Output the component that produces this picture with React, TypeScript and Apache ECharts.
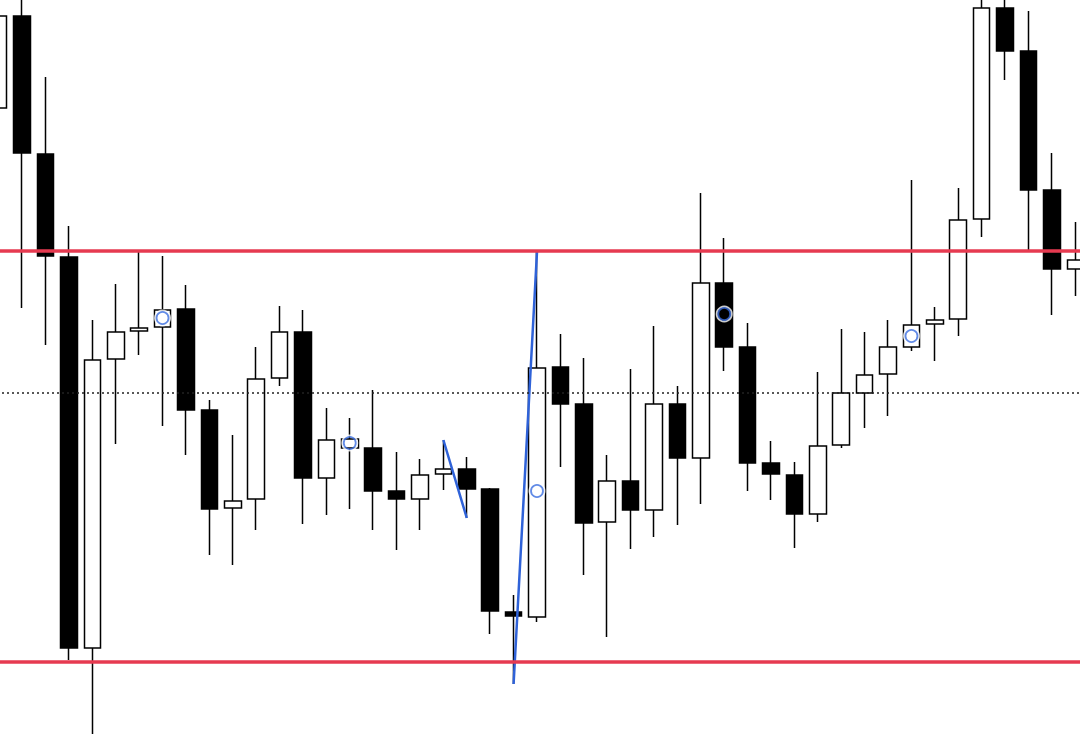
import React, { useEffect, useRef } from "react";
import * as echarts from "echarts";

// Price values (arbitrary units), one entry per candle, left to right.
const opens = [626, 718, 580, 477, 86, 375, 403, 407, 425, 324, 226, 235, 356, 402, 256, 286, 286, 243, 235, 260, 265, 245, 122, 117, 367, 330, 212, 253, 224, 330, 276, 451, 387, 271, 259, 220, 289, 341, 360, 387, 410, 415, 515, 726, 683, 544, 465];
const closes = [718, 581, 478, 86, 374, 402, 406, 424, 324, 225, 233, 355, 402, 256, 294, 295, 243, 235, 259, 265, 245, 123, 118, 366, 330, 211, 253, 224, 330, 276, 451, 387, 271, 260, 220, 288, 341, 359, 387, 409, 414, 514, 726, 683, 544, 465, 474];
const lows = [619, 426, 389, 74, -6, 290, 379, 308, 279, 179, 169, 204, 348, 210, 219, 225, 204, 184, 204, 244, 216, 100, 50, 112, 267, 159, 97, 185, 197, 209, 230, 363, 243, 234, 186, 212, 286, 306, 318, 383, 373, 398, 497, 654, 483, 419, 438];
const highs = [729, 740, 657, 508, 414, 450, 484, 478, 449, 334, 299, 387, 428, 424, 326, 316, 344, 282, 275, 294, 277, 246, 139, 482, 400, 376, 279, 365, 408, 348, 541, 496, 411, 293, 272, 362, 405, 402, 414, 554, 427, 546, 740, 740, 723, 581, 512];

// Zigzag swing line (null = no segment)
const zigzag = [null, null, null, null, null, null, null, null, null, null, null, null, null, null, null, null, null, null, null, 294, 216, null, 50, 482, null, null, null, null, null, null, null, null, null, null, null, null, null, null, null, null, null, null, null, null, null, null, null];

// Marker circles: [candle index, value]
const markers: [number, number][] = [[7, 416], [15, 291], [23, 243], [31, 420], [39, 398]];

// Horizontal levels
const resistance = 483;
const support = 72;
const midLevel = 341;

const categories = opens.map((_, i) => String(i + 1));

export default function App() {
  const ref = useRef<HTMLDivElement>(null);
  useEffect(() => {
    if (!ref.current) return;
    const chart = echarts.init(ref.current, undefined, { renderer: "svg" });
    const candleData = opens.map((o, i) => [o, closes[i], lows[i], highs[i]]);
    chart.setOption({
      animation: false,
      backgroundColor: "#ffffff",
      grid: { left: 0, top: 0, right: 0, bottom: 0, containLabel: false },
      xAxis: {
        type: "category",
        data: categories,
        boundaryGap: true,
        show: false,
      },
      yAxis: {
        type: "value",
        min: 0,
        max: 734,
        show: false,
        splitLine: { show: false },
      },
      series: [
        {
          type: "candlestick",
          data: candleData,
          barWidth: "73%",
          clip: true,
          itemStyle: {
            color: "#ffffff",
            color0: "#000000",
            borderColor: "#000000",
            borderColor0: "#000000",
            borderWidth: 1.5,
          },
          markLine: {
            silent: true,
            symbol: ["none", "none"],
            label: { show: false },
            data: [
              { yAxis: resistance, lineStyle: { color: "#e63a50", width: 3.5, type: "solid" } },
              { yAxis: support, lineStyle: { color: "#e63a50", width: 3.5, type: "solid" } },
              { yAxis: midLevel, lineStyle: { color: "#222222", width: 1.5, type: [2, 3] } },
            ],
          },
        },
        {
          type: "line",
          data: zigzag,
          connectNulls: false,
          symbol: "none",
          lineStyle: { color: "#2f62d8", width: 2.5 },
          z: 3,
        },
        {
          type: "scatter",
          data: markers,
          symbol: "circle",
          symbolSize: 15,
          itemStyle: { color: "rgba(255,255,255,0)", borderColor: "#ffffff", borderWidth: 2 },
          z: 4,
        },
        {
          type: "scatter",
          data: markers,
          symbol: "circle",
          symbolSize: 12,
          itemStyle: { color: "rgba(255,255,255,0)", borderColor: "#3b6ee0", borderWidth: 1.8 },
          z: 5,
        },
      ],
    });
    return () => chart.dispose();
  }, []);
  return (
    <div
      ref={ref}
      style={{ position: "fixed", left: -13, top: 0, width: 1100, height: 734 }}
    />
  );
}
